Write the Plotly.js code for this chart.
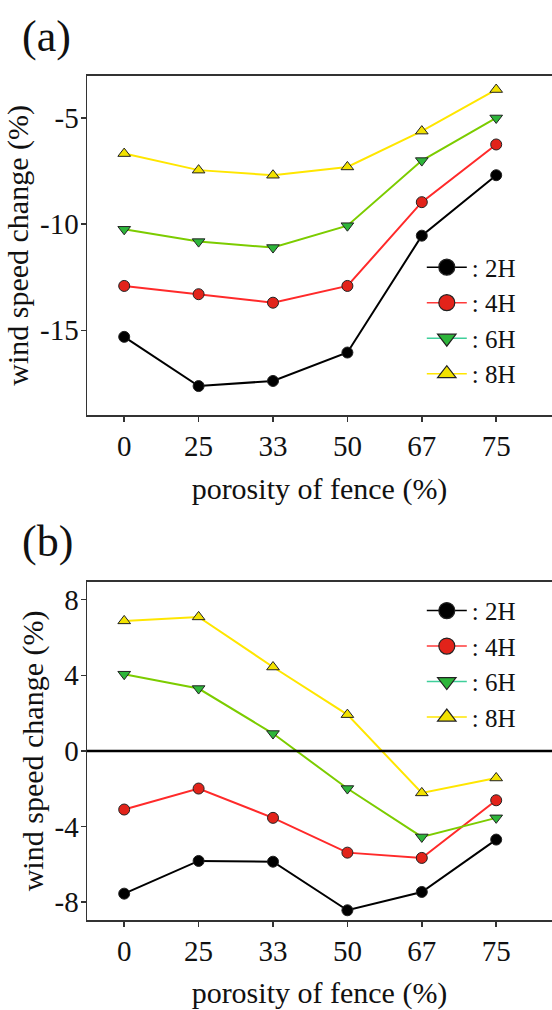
<!DOCTYPE html>
<html>
<head>
<meta charset="utf-8">
<script src="https://cdn.plot.ly/plotly-3.0.1.min.js"></script>
<style>
html,body{margin:0;padding:0;background:#fff;}
#chart{width:552px;height:1010px;}
.traces{opacity:1 !important;}
</style>
</head>
<body>
<div id="chart"></div>
<script>
const categories = ["0", "25", "33", "50", "67", "75"];
const seriesNames = [": 2H", ": 4H", ": 6H", ": 8H"];

// panel (a)
const a2H = [-15.31, -17.63, -17.39, -16.05, -10.54, -7.69];
const a4H = [-12.91, -13.30, -13.70, -12.91, -8.96, -6.24];
const a6H = [-10.24, -10.82, -11.10, -10.07, -7.00, -4.99];
const a8H = [-6.67, -7.45, -7.69, -7.30, -5.61, -3.65];

// panel (b)
const b2H = [-7.55, -5.82, -5.86, -8.43, -7.46, -4.69];
const b4H = [-3.10, -1.99, -3.54, -5.38, -5.66, -2.61];
const b6H = [4.06, 3.30, 0.92, -1.99, -4.55, -3.54];
const b8H = [6.88, 7.09, 4.44, 1.92, -2.22, -1.43];

const yTicksA = [-15, -10, -5];
const yTicksB = [-8, -4, 0, 4, 8];

const FONT = "Liberation Serif, Times New Roman, serif";
const styles = [
  {line: "#000000", legLine: "#000000", fill: "#000000", symbol: "circle"},
  {line: "#ff2a2a", legLine: "#ff3a3a", fill: "#e2231a", symbol: "circle"},
  {line: "#7ccc00", legLine: "#3fcf9a", fill: "#2db53a", symbol: "triangle-down"},
  {line: "#ffe600", legLine: "#ffe600", fill: "#f2e200", symbol: "triangle-up"}
];

function mk(y, i, xa, ya) {
  return {
    x: categories, y: y, type: "scatter", mode: "lines+markers",
    name: seriesNames[i], xaxis: xa, yaxis: ya, showlegend: false,
    line: {color: styles[i].line, width: 2},
    marker: {symbol: styles[i].symbol, size: 11, color: styles[i].fill,
             line: {color: "#222", width: 1}}
  };
}
// legend entries (same data, shown only in legend, bigger symbols)
function leg(y, i, xa, ya, legName) {
  return {
    x: categories, y: y, type: "scatter", mode: "lines+markers",
    name: seriesNames[i], xaxis: xa, yaxis: ya, legend: legName,
    visible: "legendonly",
    line: {color: styles[i].legLine, width: 1.5},
    marker: {symbol: styles[i].symbol, size: 16, color: styles[i].fill,
             line: {color: "#222", width: 1.2}}
  };
}

const data = [
  mk(a2H, 0, "x", "y"), mk(a4H, 1, "x", "y"), mk(a6H, 2, "x", "y"), mk(a8H, 3, "x", "y"),
  mk(b2H, 0, "x2", "y2"), mk(b4H, 1, "x2", "y2"), mk(b6H, 2, "x2", "y2"), mk(b8H, 3, "x2", "y2"),
  leg(a2H, 0, "x", "y", "legend"), leg(a4H, 1, "x", "y", "legend"),
  leg(a6H, 2, "x", "y", "legend"), leg(a8H, 3, "x", "y", "legend"),
  leg(b2H, 0, "x2", "y2", "legend2"), leg(b4H, 1, "x2", "y2", "legend2"),
  leg(b6H, 2, "x2", "y2", "legend2"), leg(b8H, 3, "x2", "y2", "legend2")
];

function xax(anchor) {
  return {
    anchor: anchor, type: "category", range: [-0.5, 5.75],
    showgrid: false, zeroline: false, showline: true, mirror: true,
    linecolor: "#333", linewidth: 1.5, ticks: "outside", ticklen: 5,
    tickcolor: "#333", tickwidth: 1.5,
    tickfont: {family: FONT, size: 29, color: "#111"},
    title: {text: "porosity of fence (%)", font: {family: FONT, size: 30, color: "#111"}, standoff: 16}
  };
}
function yax(anchor, domain, range, ticks) {
  return {
    anchor: anchor, domain: domain, range: range,
    tickmode: "array", tickvals: ticks, ticktext: ticks.map(String),
    showgrid: false, zeroline: false, showline: true, mirror: true,
    linecolor: "#333", linewidth: 1.5, ticks: "outside", ticklen: 5,
    tickcolor: "#333", tickwidth: 1.5, ticklabelstandoff: -4,
    tickfont: {family: FONT, size: 29, color: "#111"},
    title: {text: "wind speed change (%)", font: {family: FONT, size: 30, color: "#111"}, standoff: 2}
  };
}

const legendBase = {
  font: {family: FONT, size: 25, color: "#111"},
  bgcolor: "rgba(255,255,255,0)", borderwidth: 0,
  xanchor: "left", yanchor: "top", tracegroupgap: 0, itemwidth: 40,
  itemclick: false, itemdoubleclick: false
};

const layout = {
  width: 552, height: 1010,
  margin: {l: 87, r: 0, t: 0, b: 0},
  paper_bgcolor: "#fff", plot_bgcolor: "#fff",
  showlegend: true,
  xaxis: Object.assign(xax("y"), {domain: [0, 1]}),
  yaxis: yax("x", [0.589, 0.925], [-19.0, -3.0], yTicksA),
  xaxis2: Object.assign(xax("y2"), {domain: [0, 1]}),
  yaxis2: yax("x2", [0.089, 0.424], [-8.95, 8.95], yTicksB),
  legend: Object.assign({}, legendBase, {x: 0.72, y: 0.758}),
  legend2: Object.assign({}, legendBase, {x: 0.72, y: 0.418}),
  shapes: [
    {type: "line", xref: "x2 domain", yref: "y2", x0: 0, x1: 1, y0: 0, y1: 0,
     line: {color: "#000", width: 2.5}}
  ],
  annotations: [
    {text: "(a)", xref: "paper", yref: "paper", x: -0.145, y: 0.99, xanchor: "left", yanchor: "top",
     showarrow: false, font: {family: FONT, size: 44, color: "#111"}},
    {text: "(b)", xref: "paper", yref: "paper", x: -0.145, y: 0.49, xanchor: "left", yanchor: "top",
     showarrow: false, font: {family: FONT, size: 44, color: "#111"}}
  ]
};

Plotly.newPlot("chart", data, layout, {displayModeBar: false, staticPlot: true});
</script>
</body>
</html>
